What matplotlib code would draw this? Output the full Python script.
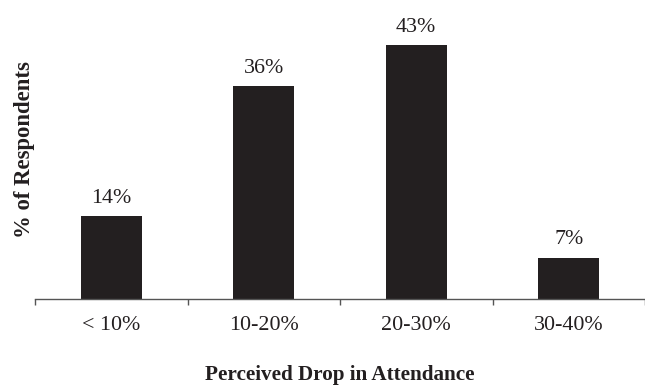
import numpy as np
import matplotlib.pyplot as plt
from matplotlib.ticker import FixedLocator

# survey results
categories = ['< 10%', '10-20%', '20-30%', '30-40%']
percent = [14, 36, 43, 7]

plt.rcParams['font.family'] = ['Liberation Serif', 'DejaVu Serif']

fig = plt.figure(figsize=(6.45, 3.87), dpi=100)
ax = fig.add_axes([35 / 645, 88 / 387, 610 / 645, 299 / 387])

x = np.arange(len(categories))
bars = ax.bar(x, percent, width=0.4, color='#231f20')

# value labels above the bars
for b, v in zip(bars, percent):
    ax.annotate(f'{v}%', (b.get_x() + b.get_width() / 2, v),
                xytext=(0, 6), textcoords='offset points',
                ha='center', va='bottom', fontsize=15.8, color='#231f20')

ax.set_xlim(-0.5, len(categories) - 0.5)
ax.set_ylim(0, 50.6)

# category labels in the middle, tick marks on the boundaries
ax.set_xticks(x)
ax.set_xticklabels(categories, fontsize=15.8, color='#231f20')
ax.tick_params(axis='x', which='major', length=0, pad=12.5)
ax.xaxis.set_minor_locator(FixedLocator(np.arange(-0.5, len(categories), 1.0)))
ax.tick_params(axis='x', which='minor', length=4.3, width=1, color='#555555', direction='out')
ax.set_yticks([])

for s in ['top', 'right', 'left']:
    ax.spines[s].set_visible(False)
ax.spines['bottom'].set_color('#555555')
ax.spines['bottom'].set_linewidth(1)

ax.set_xlabel('Perceived Drop in Attendance', fontsize=15.2, fontweight='bold', color='#231f20')
ax.xaxis.set_label_coords(0.5, -0.222)
ax.xaxis.label.set_va('top')
ax.set_ylabel('% of Respondents', fontsize=16.4, fontweight='bold', color='#231f20')
ax.yaxis.set_label_coords(0.0, 0.5)

fig.savefig('out.png', dpi=100)
